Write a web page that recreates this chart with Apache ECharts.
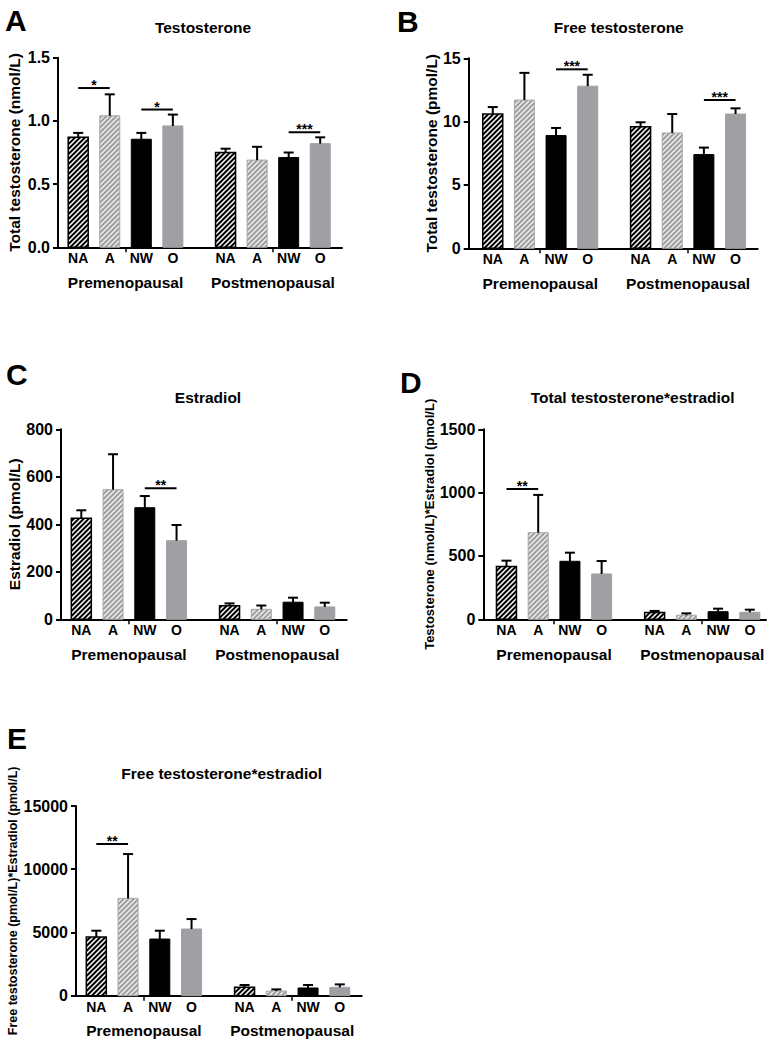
<!DOCTYPE html>
<html><head><meta charset="utf-8">
<script src="https://cdn.jsdelivr.net/npm/echarts@6/dist/echarts.min.js"></script>
<style>html,body{margin:0;padding:0;background:#fff}#chart{width:772px;height:1040px}</style>
</head><body><div id="chart"></div>
<script>
// ---------- DATA ----------
const categories = ['NA', 'A', 'NW', 'O', 'NA', 'A', 'NW', 'O'];
const groups = ['Premenopausal', 'Postmenopausal'];

// A: Testosterone (nmol/L)
const testoMean = [0.87, 1.04, 0.855, 0.96, 0.75, 0.69, 0.71, 0.82];
const testoSem = [0.035, 0.17, 0.05, 0.09, 0.03, 0.105, 0.04, 0.05];
const testoTicks = [0, 0.5, 1.0, 1.5];
const testoSig = [[0, 1, 1.26, '*'], [2, 3, 1.09, '*'], [6, 7, 0.91, '***']];

// B: Free testosterone (pmol/L)
const freeMean = [10.6, 11.7, 8.9, 12.8, 9.6, 9.1, 7.4, 10.6];
const freeSem = [0.55, 2.15, 0.6, 0.9, 0.35, 1.5, 0.55, 0.45];
const freeTicks = [0, 5, 10, 15];
const freeSig = [[2, 3, 14.13, '***'], [6, 7, 11.71, '***']];

// C: Estradiol (pmol/L)
const e2Mean = [425, 546, 470, 331, 57, 42, 72, 52];
const e2Sem = [34, 149, 49, 66, 10, 16, 19, 18];
const e2Ticks = [0, 200, 400, 600, 800];
const e2Sig = [[2, 3, 552, '**']];

// D: Total testosterone * estradiol
const tte2Mean = [416, 684, 458, 358, 53, 32, 60, 55];
const tte2Sem = [47, 298, 68, 102, 13, 15, 24, 21];
const tte2Ticks = [0, 500, 1000, 1500];
const tte2Sig = [[0, 1, 1029, '**']];

// E: Free testosterone * estradiol
const fte2Mean = [4640, 7700, 4480, 5270, 660, 370, 610, 660];
const fte2Sem = [500, 3500, 660, 790, 185, 130, 235, 235];
const fte2Ticks = [0, 5000, 10000, 15000];
const fte2Sig = [[0, 1, 12000, '**']];

// ---------- LAYOUT / STYLE ----------
const FONT = '"Liberation Sans", Arial, Helvetica, sans-serif';
const GAP = 0.67;
const pos = i => (i < 4 ? i : i + GAP);
const sepPositions = [0.5 * (pos(1) + pos(2)), 0.5 * (pos(5) + pos(6))];
const groupPositions = [0.5 * (pos(0) + pos(3)), 0.5 * (pos(4) + pos(7))];
const BAR_W = 20;

function hatch(bg, fg, size, lw) {
  const c = document.createElement('canvas');
  c.width = size; c.height = size;
  const g = c.getContext('2d');
  g.fillStyle = bg; g.fillRect(0, 0, size, size);
  g.strokeStyle = fg; g.lineWidth = lw;
  g.beginPath();
  g.moveTo(-1, size + 1); g.lineTo(size + 1, -1);
  g.moveTo(-size / 2 - 1, size / 2 + 1); g.lineTo(size / 2 + 1, -size / 2 - 1);
  g.moveTo(size / 2 - 1, size * 1.5 + 1); g.lineTo(size * 1.5 + 1, size / 2 - 1);
  g.stroke();
  return c;
}
const barStyles = [
  { fill: { image: hatch('#000000', '#ffffff', 5, 1.5), repeat: 'repeat' }, stroke: '#000000', lw: 1.5 },
  { fill: { image: hatch('#9a9a9a', '#e6e6e6', 5, 1.7), repeat: 'repeat' }, stroke: '#a6a6a6', lw: 1 },
  { fill: '#000000', stroke: '#000000', lw: 1 },
  { fill: '#a0a0a4', stroke: '#a0a0a4', lw: 1 }
];

const panels = [
  { letter: 'A', title: 'Testosterone', yName: 'Total testosterone (nmol/L)', mean: testoMean, sem: testoSem, ticks: testoTicks, sig: testoSig, dec: 1,
    grid: { left: 58, top: 57.7, width: 284, height: 189.6 }, xMin: -0.64, xMax: 8.36, nameGap: 36, nameSize: 15.5,
    letterPos: [0, 0], titlePos: [198, 14] },
  { letter: 'B', title: 'Free testosterone', yName: 'Total testosterone (pmol/L)', mean: freeMean, sem: freeSem, ticks: freeTicks, sig: freeSig, dec: 0,
    grid: { left: 468.7, top: 58.3, width: 289, height: 190 }, xMin: -0.76, xMax: 8.37, nameGap: 28, nameSize: 15.5,
    letterPos: [392, 1], titlePos: [613.7, 14] },
  { letter: 'C', title: 'Estradiol', yName: 'Estradiol (pmol/L)', mean: e2Mean, sem: e2Sem, ticks: e2Ticks, sig: e2Sig, dec: 0,
    grid: { left: 61, top: 429.3, width: 285.7, height: 190 }, xMin: -0.64, xMax: 8.36, nameGap: 38, nameSize: 15.5,
    letterPos: [1, 354], titlePos: [203, 384] },
  { letter: 'D', title: 'Total testosterone*estradiol', yName: 'Testosterone (nmol/L)*Estradiol (pmol/L)', mean: tte2Mean, sem: tte2Sem, ticks: tte2Ticks, sig: tte2Sig, dec: 0,
    grid: { left: 483.3, top: 429.3, width: 282.7, height: 190 }, xMin: -0.73, xMax: 8.18, nameGap: 44, nameSize: 13,
    letterPos: [395, 362], titlePos: [627.7, 384] },
  { letter: 'E', title: 'Free testosterone*estradiol', yName: 'Free testosterone (pmol/L)*Estradiol (pmol/L)', mean: fte2Mean, sem: fte2Sem, ticks: fte2Ticks, sig: fte2Sig, dec: 0,
    grid: { left: 76, top: 806, width: 285.7, height: 189.7 }, xMin: -0.64, xMax: 8.36, nameGap: 57, nameSize: 12.5,
    letterPos: [2, 718], titlePos: [216.7, 760] }
];

const option = { animation: false, backgroundColor: '#ffffff', title: [], grid: [], xAxis: [], yAxis: [], series: [] };

panels.forEach((p, k) => {
  option.title.push({
    text: p.letter, left: p.letterPos[0], top: p.letterPos[1],
    textStyle: { fontFamily: FONT, fontWeight: 'bold', fontSize: 30, color: '#000' }
  });
  option.title.push({
    text: p.title, left: p.titlePos[0], top: p.titlePos[1], textAlign: 'center',
    textStyle: { fontFamily: FONT, fontWeight: 'bold', fontSize: 15.5, color: '#000' }
  });
  option.grid.push(Object.assign({ containLabel: false, outerBoundsMode: 'none' }, p.grid));
  // category axis (value scale for grouped spacing)
  option.xAxis.push({
    type: 'value', gridIndex: k, min: p.xMin, max: p.xMax, position: 'bottom',
    splitLine: { show: false },
    axisLine: { show: true, onZero: false, lineStyle: { color: '#000', width: 2 } },
    axisTick: { show: true, customValues: sepPositions, length: 5, lineStyle: { color: '#000', width: 1.5 } },
    axisLabel: {
      show: true, customValues: categories.map((c, i) => pos(i)), margin: 4,
      formatter: v => { const i = categories.findIndex((c, j) => Math.abs(pos(j) - v) < 0.01); return i >= 0 ? categories[i] : ''; },
      fontFamily: FONT, fontWeight: 'bold', fontSize: 14, color: '#000'
    }
  });
  // group label axis
  option.xAxis.push({
    type: 'value', gridIndex: k, min: p.xMin, max: p.xMax, position: 'bottom',
    splitLine: { show: false }, axisLine: { show: false, onZero: false }, axisTick: { show: false },
    axisLabel: {
      show: true, customValues: groupPositions, margin: 27,
      formatter: v => { const i = groupPositions.findIndex(g => Math.abs(g - v) < 0.01); return i >= 0 ? groups[i] : ''; },
      fontFamily: FONT, fontWeight: 'bold', fontSize: 15.5, color: '#000'
    }
  });
  option.yAxis.push({
    type: 'value', gridIndex: k, min: p.ticks[0], max: p.ticks[p.ticks.length - 1], interval: p.ticks[1] - p.ticks[0],
    position: 'left',
    name: p.yName, nameLocation: 'middle', nameGap: p.nameGap, nameRotate: 90,
    nameTextStyle: { fontFamily: FONT, fontWeight: 'bold', fontSize: p.nameSize, color: '#000' },
    splitLine: { show: false },
    axisLine: { show: true, onZero: false, lineStyle: { color: '#000', width: 2 } },
    axisTick: { show: true, length: 5, lineStyle: { color: '#000', width: 2 } },
    axisLabel: { margin: 8, formatter: v => v.toFixed(p.dec), fontFamily: FONT, fontWeight: 'bold', fontSize: 16, color: '#000' }
  });
  const xIdx = k * 2;
  option.series.push({
    type: 'custom', xAxisIndex: xIdx, yAxisIndex: k, clip: false,
    data: p.mean.map((m, i) => [pos(i), m, m + p.sem[i], i % 4]),
    renderItem: (params, api) => {
      const x = api.value(0), v = api.value(1), up = api.value(2);
      const st = barStyles[api.value(3)];
      const p0 = api.coord([x, 0]), p1 = api.coord([x, v]), p2 = api.coord([x, up]);
      return { type: 'group', children: [
        { type: 'rect', shape: { x: p0[0] - BAR_W / 2, y: p1[1], width: BAR_W, height: p0[1] - p1[1] },
          style: { fill: st.fill, stroke: st.stroke, lineWidth: st.lw } },
        { type: 'line', shape: { x1: p1[0], y1: p1[1], x2: p2[0], y2: p2[1] }, style: { stroke: '#000', lineWidth: 2 } },
        { type: 'line', shape: { x1: p2[0] - 5, y1: p2[1], x2: p2[0] + 5, y2: p2[1] }, style: { stroke: '#000', lineWidth: 2 } }
      ] };
    }
  });
  option.series.push({
    type: 'custom', xAxisIndex: xIdx, yAxisIndex: k, clip: false,
    data: p.sig.map(s => [pos(s[0]), pos(s[1]), s[2]]),
    renderItem: (params, api) => {
      const s = p.sig[params.dataIndex];
      const a = api.coord([api.value(0), api.value(2)]), b = api.coord([api.value(1), api.value(2)]);
      return { type: 'group', children: [
        { type: 'line', shape: { x1: a[0], y1: a[1], x2: b[0], y2: b[1] }, style: { stroke: '#000', lineWidth: 2 } },
        { type: 'text', x: (a[0] + b[0]) / 2, y: a[1] - 3,
          style: { text: s[3], fill: '#000', font: 'bold 14px ' + FONT, align: 'center', verticalAlign: 'middle' } }
      ] };
    }
  });
});

const chart = echarts.init(document.getElementById('chart'), null, { renderer: 'svg', width: 772, height: 1040 });
chart.setOption(option);
</script>
</body></html>
